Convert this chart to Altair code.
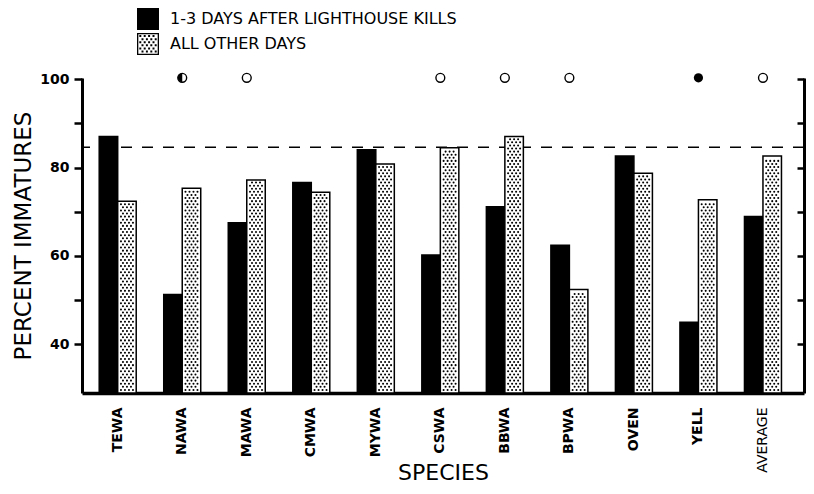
import altair as alt
import pandas as pd

# ---------------- data ----------------
SPECIES = ["TEWA", "NAWA", "MAWA", "CMWA", "MYWA", "CSWA", "BBWA", "BPWA", "OVEN", "YELL", "AVERAGE"]
SERIES = ["1-3 DAYS AFTER LIGHTHOUSE KILLS", "ALL OTHER DAYS"]
KILL_DAYS = [87.0, 51.3, 67.5, 76.6, 84.0, 60.2, 71.1, 62.4, 82.6, 45.0, 68.9]
OTHER_DAYS = [72.4, 75.3, 77.2, 74.4, 80.8, 84.5, 87.0, 52.4, 78.7, 72.7, 82.6]
MARKERS = ["", "half", "open", "", "", "open", "open", "open", "", "filled", "open"]
REF_LEVEL = [84.6]
MARK_LEVEL = 100.3
Y_TICKS = [40, 50, 60, 70, 80, 90, 100]

FONT = "DejaVu Sans"
W, H = 722, 315
BAND = 37.0  # approx. pixel width of one species group (for stipple texture placement)

long_df = pd.DataFrame(
    [{"species": s, "series": SERIES[0], "value": v} for s, v in zip(SPECIES, KILL_DAYS)]
    + [{"species": s, "series": SERIES[1], "value": v} for s, v in zip(SPECIES, OTHER_DAYS)]
)
mark_df = pd.DataFrame({"species": SPECIES, "marker": MARKERS, "level": [MARK_LEVEL] * len(SPECIES)})
ref_df = pd.DataFrame({"level": REF_LEVEL})
legend_df = pd.DataFrame({"series": SERIES})

# ---------------- scales / axes ----------------
YS = alt.Scale(domain=[29, 100.25], nice=False, zero=False)
XS = alt.Scale(domain=SPECIES, paddingInner=0.4266, paddingOuter=0.308, align=0.433)
XOS = alt.Scale(domain=SERIES, paddingInner=0, paddingOuter=0)

x_axis = alt.Axis(
    title="SPECIES", ticks=False, tickSize=0, domainWidth=3.5, domainColor="black",
    labelAngle=270, labelAlign="right", labelBaseline="middle", labelPadding=14,
    labelFontSize=14, labelFont=FONT, labelColor="black", labelLimit=300,
    labelFontWeight={"condition": {"test": "datum.value == 'AVERAGE'", "value": "normal"}, "value": "bold"},
    titleFontSize=22, titleFontWeight="normal", titleFont=FONT, titleColor="black",
    titleY=79, titleBaseline="middle",
)


def X(band_pos=None):
    if band_pos is None:
        return alt.X("species:N", sort=SPECIES, scale=XS, axis=x_axis)
    return alt.X("species:N", sort=SPECIES, scale=XS, axis=x_axis, bandPosition=band_pos)


XO = alt.XOffset("series:N", sort=SERIES, scale=XOS)

y_axis = alt.Axis(
    orient="left", title="PERCENT IMMATURES", values=Y_TICKS,
    labelExpr="datum.value % 20 == 0 ? datum.label : ''",
    grid=False, tickSize=8, tickWidth=2.5, tickColor="black",
    domainWidth=3, domainColor="black",
    labelFontSize=14, labelFontWeight="bold", labelFont=FONT, labelColor="black", labelPadding=5,
    titleFontSize=23, titleFontWeight="normal", titleFont=FONT, titleColor="black",
    titleX=-52, titleY=H / 2, titleAngle=270, titleAlign="center", titleBaseline="alphabetic",
)
r_axis = alt.Axis(
    orient="left", offset=-W, values=Y_TICKS, labels=False, title=None, grid=False,
    tickSize=7, tickWidth=2.5, tickColor="black", domainWidth=3, domainColor="black",
)

# ---------------- layers ----------------
ref_rule = alt.Chart(ref_df).mark_rule(color="black", strokeWidth=1.6, strokeDash=[11, 10]).encode(
    y=alt.Y("level:Q", scale=YS, axis=r_axis)
)

bars = alt.Chart(long_df).mark_bar(stroke="black", strokeWidth=1.5, opacity=1).encode(
    x=X(),
    xOffset=XO,
    y=alt.Y("value:Q", scale=YS, axis=y_axis),
    y2=alt.datum(29),
    fill=alt.condition(alt.datum.series == SERIES[0], alt.value("black"), alt.value("white")),
)


def dots(start, offs):
    layers = []
    for o in offs:
        layers.append(
            alt.Chart(long_df)
            .transform_filter(alt.datum.series == SERIES[1])
            .transform_calculate(yy=f"sequence({start}, datum.value - 0.5, 1.4)")
            .transform_flatten(["yy"])
            .mark_circle(size=4.2, color="black", opacity=1)
            .encode(x=X(0.75 + o / BAND), y=alt.Y("yy:Q", scale=YS, axis=None))
        )
    return layers


dot_layers = dots(29.7, [-6, -2, 2, 6]) + dots(30.4, [-4, 0, 4])

open_marks = alt.Chart(mark_df).transform_filter(
    "datum.marker == 'open' || datum.marker == 'half'"
).mark_point(shape="circle", filled=True, fill="white", stroke="black", strokeWidth=1.4, size=78, opacity=1).encode(
    x=X(), y=alt.Y("level:Q", scale=YS, axis=None)
)
half_marks = alt.Chart(mark_df).transform_filter("datum.marker == 'half'").mark_point(
    shape="M0,-1 A1,1 0 0,0 0,1 Z", filled=True, color="black", size=78, opacity=1
).encode(x=X(), y=alt.Y("level:Q", scale=YS, axis=None))
filled_marks = alt.Chart(mark_df).transform_filter("datum.marker == 'filled'").mark_point(
    shape="circle", filled=True, color="black", size=85, opacity=1
).encode(x=X(), y=alt.Y("level:Q", scale=YS, axis=None))

# legend swatches: solid square and a stippled square
SQ = "M-1,-1H1V1H-1Z"
stip = ["M-1,-1H1V1H-1Z", "M-0.88,-0.88V0.88H0.88V-0.88Z"]
ys_ = [-0.72, -0.44, -0.16, 0.12, 0.40, 0.68]
for i, yv in enumerate(ys_):
    xs_ = [-0.70, -0.30, 0.10, 0.50] if i % 2 == 0 else [-0.50, -0.10, 0.30, 0.70]
    for xv in xs_:
        stip.append(f"M{xv - 0.09:.2f},{yv - 0.09:.2f}h0.18v0.18h-0.18Z")
STIP = " ".join(stip)

legend_layer = alt.Chart(legend_df).transform_filter("false").mark_point(filled=True, color="black").encode(
    shape=alt.Shape(
        "series:N",
        sort=SERIES,
        scale=alt.Scale(domain=SERIES, range=[SQ, STIP]),
        legend=alt.Legend(
            title=None, orient="none", legendX=55, legendY=-70,
            symbolSize=484, symbolOpacity=1, symbolFillColor="black", symbolStrokeWidth=0,
            labelFont=FONT, labelFontSize=16, labelColor="black", labelOffset=11,
            rowPadding=3, labelLimit=600,
        ),
    )
)

chart = (
    alt.layer(ref_rule, bars, *dot_layers, open_marks, half_marks, filled_marks, legend_layer)
    .resolve_axis(y="independent")
    .properties(
        width=W, height=H,
        padding={"left": 74, "top": 70, "right": 2, "bottom": 476 - 70 - H},
        autosize=alt.AutoSizeParams(type="none"),
        background="white",
    )
    .configure_view(stroke=None)
)

chart.save("out.html", embed_options={"renderer": "svg", "actions": False})
